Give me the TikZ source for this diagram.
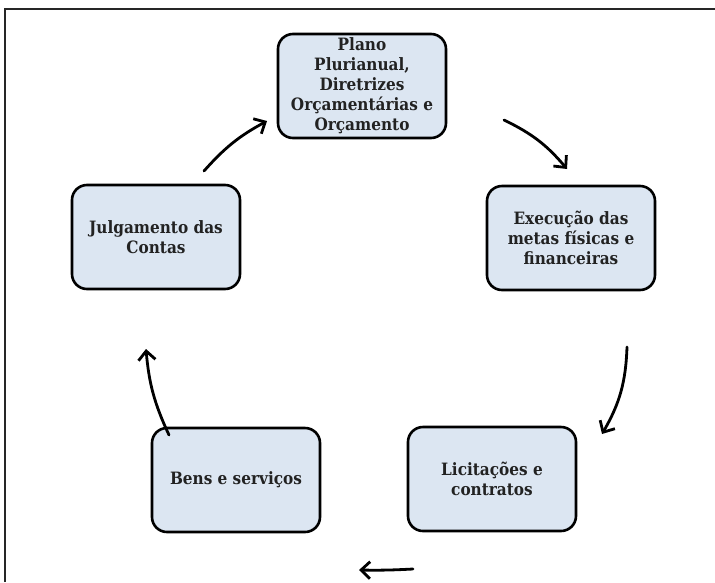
\documentclass[tikz,border=0pt]{standalone}
\usepackage{fontspec}
\setmainfont{DejaVu Serif Condensed}
\usetikzlibrary{arrows.meta}
\definecolor{boxfill}{HTML}{DCE6F2}
\definecolor{txt}{HTML}{222222}
\tikzset{
  stagebox/.style={draw=black, line width=2.6pt, rounded corners=15pt, fill=boxfill,
    minimum width=168pt, minimum height=104pt, align=center, text=txt,
    font=\fontsize{17}{20}\selectfont\bfseries, inner sep=2pt},
  cyclearrow/.style={line width=2.8pt, line cap=round,
    -{Straight Barb[length=9pt,width=17pt,line width=2.8pt]}},
  frameline/.style={line width=1.6pt, draw=black!85}
}
\begin{document}
\begin{tikzpicture}[x=1pt,y=-1pt]
\useasboundingbox (0,0) rectangle (715,582);
\fill[white] (0,0) rectangle (715,582);
\coordinate (fa) at (5,582);
\coordinate (fb) at (5,9);
\coordinate (fc) at (715,9);
\draw[frameline] (fa) -- (fb) -- (fc);

\node[stagebox] (plano) at (362,86) {Plano\\Plurianual,\\Diretrizes\\Orçamentárias e\\Orçamento};
\node[stagebox] (exec) at (571,238) {Execução das\\metas físicas e\\financeiras};
\node[stagebox] (julg) at (156,237) {Julgamento das\\Contas};
\node[stagebox] (bens) at (236,480) {Bens e serviços};
\node[stagebox] (lic) at (492,479) {Licitações e\\contratos};

\coordinate (a1s) at (504,120);
\coordinate (a1e) at (567,169);
\coordinate (a2s) at (627,347);
\coordinate (a2e) at (602,434);
\coordinate (a3s) at (413,569);
\coordinate (a3e) at (359,570);
\coordinate (a4s) at (169,435);
\coordinate (a4e) at (146,349);
\coordinate (a5s) at (204,171);
\coordinate (a5e) at (267,121);

\draw[cyclearrow] (a1s) to[bend left=12] (a1e);
\draw[cyclearrow] (a2s) to[bend left=14] (a2e);
\draw[cyclearrow] (a3s) to[bend left=2] (a3e);
\draw[cyclearrow] (a4s) to[bend left=10] (a4e);
\draw[cyclearrow] (a5s) to[bend left=10] (a5e);
\end{tikzpicture}
\end{document}
